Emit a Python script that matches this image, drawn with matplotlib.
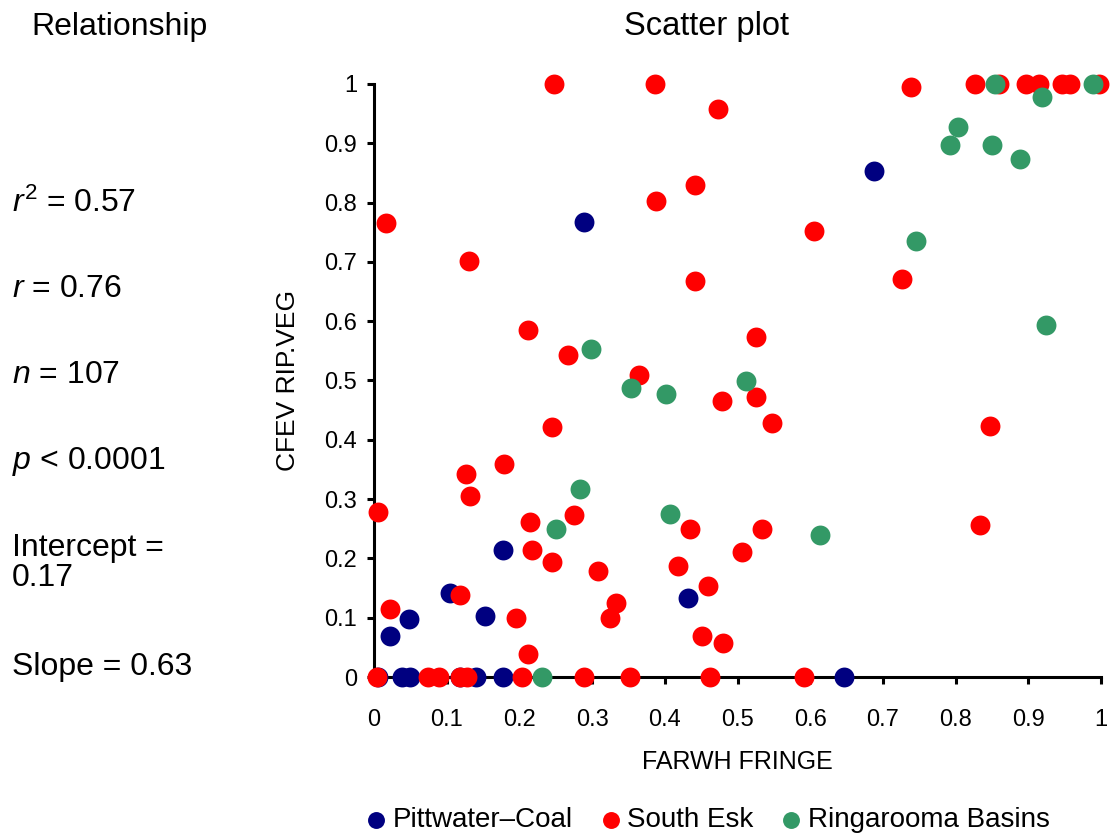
import matplotlib
matplotlib.use("Agg")
import matplotlib.pyplot as plt

plt.rcParams['font.family'] = ['Liberation Sans', 'DejaVu Sans']
plt.rcParams['mathtext.fontset'] = 'custom'
plt.rcParams['mathtext.rm'] = 'Liberation Sans'
plt.rcParams['mathtext.it'] = 'Liberation Sans:italic'

# FARWH fringe (x) vs CFEV riparian vegetation (y), one set per basin group
pitt_x = [0.022, 0.048, 0.105, 0.152, 0.177, 0.432, 0.289, 0.688,
          0.005, 0.038, 0.049, 0.118, 0.140, 0.178, 0.647]
pitt_y = [0.069, 0.097, 0.141, 0.103, 0.215, 0.134, 0.768, 0.853,
          0, 0, 0, 0, 0, 0, 0]

esk_x = [0.248, 0.386, 0.739, 0.826, 0.860, 0.897, 0.915, 0.946, 0.958, 0.997,
         0.473, 0.017, 0.441, 0.388, 0.130, 0.441, 0.2125, 0.267, 0.364, 0.478,
         0.526, 0.548, 0.847, 0.534, 0.506, 0.834, 0.480, 0.2455, 0.1786, 0.127,
         0.132, 0.006, 0.2757, 0.2147, 0.435, 0.2175, 0.2455, 0.3086, 0.4185, 0.460,
         0.333, 0.325, 0.1955, 0.1186, 0.022, 0.2125, 0.4515, 0.6058, 0.7266, 0.5257,
         0.004, 0.074, 0.090, 0.118, 0.128, 0.204, 0.289, 0.352, 0.4625, 0.592]
esk_y = [1.0, 1.0, 0.995, 1.0, 1.0, 1.0, 1.0, 1.0, 1.0, 1.0,
         0.958, 0.765, 0.829, 0.802, 0.701, 0.668, 0.586, 0.5425, 0.509, 0.465,
         0.472, 0.428, 0.424, 0.249, 0.211, 0.256, 0.057, 0.421, 0.360, 0.343,
         0.306, 0.279, 0.2727, 0.262, 0.249, 0.215, 0.1945, 0.178, 0.188, 0.154,
         0.124, 0.100, 0.100, 0.1377, 0.114, 0.039, 0.0697, 0.752, 0.6706, 0.5733,
         0, 0, 0, 0, 0, 0, 0, 0, 0, 0]

ring_x = [0.854, 0.989, 0.919, 0.8036, 0.7926, 0.850, 0.8887, 0.746, 0.9245,
          0.298, 0.353, 0.401, 0.512, 0.614, 0.2835, 0.251, 0.4075, 0.231]
ring_y = [1.0, 1.0, 0.978, 0.9275, 0.897, 0.897, 0.8735, 0.735, 0.593,
          0.553, 0.488, 0.478, 0.499, 0.239, 0.3165, 0.249, 0.275, 0]

groups = ["Pittwater\u2013Coal", "South Esk", "Ringarooma Basins"]
colors = ["#000080", "#ff0000", "#339966"]

ticks = [0, 0.1, 0.2, 0.3, 0.4, 0.5, 0.6, 0.7, 0.8, 0.9, 1]
tick_labels = ["0", "0.1", "0.2", "0.3", "0.4", "0.5", "0.6", "0.7", "0.8", "0.9", "1"]

stats = ["$r^2$ = 0.57", "$r$ = 0.76", "$n$ = 107", "$p$ < 0.0001",
         "Intercept =\n0.17", "Slope = 0.63"]

fig = plt.figure(figsize=(11.1, 8.34), dpi=100)
ax = fig.add_axes([374 / 1110, 1 - 677 / 834, 727 / 1110, 593 / 834])

for xs, ys, c, name in zip([pitt_x, esk_x, ring_x], [pitt_y, esk_y, ring_y], colors, groups):
    ax.scatter(xs, ys, s=205, color=c, linewidths=0, clip_on=False, zorder=3, label=name)

ax.set_xlim(0, 1)
ax.set_ylim(0, 1)
ax.set_xticks(ticks)
ax.set_xticklabels(tick_labels)
ax.set_yticks(ticks)
ax.set_yticklabels(tick_labels)
for side in ["top", "right"]:
    ax.spines[side].set_visible(False)
for side in ["left", "bottom"]:
    ax.spines[side].set_linewidth(2.2)
ax.tick_params(axis="both", direction="out", length=5, width=2.2, labelsize=17)
ax.tick_params(axis="x", pad=18)
ax.tick_params(axis="y", pad=7)

ax.set_xlabel("FARWH FRINGE", fontsize=18)
ax.set_ylabel("CFEV RIP.VEG", fontsize=19)
ax.xaxis.set_label_coords(0.5, -0.123)
ax.yaxis.set_label_coords(-0.102, 0.5)

fig.text(706 / 1110, 1 - 27 / 834, "Scatter plot", fontsize=23.5, ha="center", va="center")
fig.text(120 / 1110, 1 - 27 / 834, "Relationship", fontsize=23, ha="center", va="center")

stat_y = [203, 289, 375, 461, 563, 667]
for txt, yy in zip(stats, stat_y):
    fig.text(12 / 1110, 1 - yy / 834, txt, fontsize=23, ha="left", va="center",
             linespacing=1.0)

fig.legend(loc="center", bbox_to_anchor=(706 / 1110, 1 - 820 / 834), ncol=3,
           frameon=False, fontsize=20, markerscale=0.85, handlelength=1.0,
           handletextpad=0.1, columnspacing=0.85, borderaxespad=0)

fig.savefig("out.png", dpi=100)
